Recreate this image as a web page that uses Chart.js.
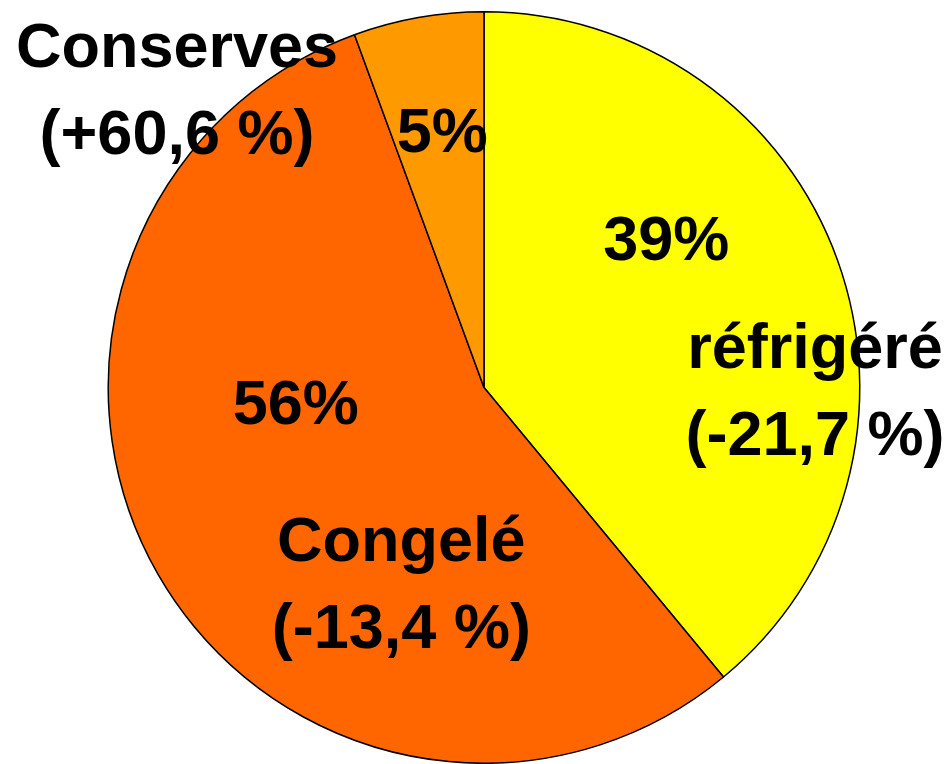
<!DOCTYPE html>
<html>
<head>
<meta charset="utf-8">
<script src="https://cdn.jsdelivr.net/npm/chart.js@4.4.0/dist/chart.umd.min.js"></script>
<style>
  html, body { margin: 0; padding: 0; background: #ffffff; }
  #wrap { width: 952px; height: 764px; }
</style>
</head>
<body>
<div id="wrap"><canvas id="pie" width="952" height="764"></canvas></div>
<script>
// data, clockwise from 12 o'clock
const categories = ['réfrigéré', 'Congelé', 'Conserves'];
const shares = [39.0, 55.4, 5.6];          // slice sizes measured from the angles
const shareLabels = ['39%', '56%', '5%'];  // as printed on the chart
const changes = ['(-21,7 %)', '(-13,4 %)', '(+60,6 %)'];
const sliceColors = ['#ffff00', '#ff6600', '#ff9900'];

// where the labels sit, as fractions of the radius from the centre
// pct = the "xx%" text, name = category + change (two lines)
const labelPlace = [
    { pct: [0.485, -0.340], name: [0.881, -0.053] },
    { pct: [-0.501, 0.098], name: [-0.220, 0.462] },
    { pct: [-0.111, -0.626], name: [-0.817, -0.854] }
];

const sliceLabels = {
    id: 'sliceLabels',
    afterDraw(chart) {
        const ctx = chart.ctx;
        const arc = chart.getDatasetMeta(0).data[0];
        const cx = arc.x, cy = arc.y, r = arc.outerRadius;
        const lineGap = 0.232 * r;
        ctx.save();
        ctx.fillStyle = '#000000';
        ctx.font = "bold 63px 'Liberation Sans', Arial, sans-serif";
        ctx.textAlign = 'center';
        ctx.textBaseline = 'alphabetic';
        shareLabels.forEach((txt, i) => {
            const p = labelPlace[i];
            ctx.fillText(txt, cx + p.pct[0] * r, cy + p.pct[1] * r);
            const nx = cx + p.name[0] * r, ny = cy + p.name[1] * r;
            ctx.fillText(categories[i], nx, ny);
            ctx.fillText(changes[i], nx, ny + lineGap);
        });
        ctx.restore();
    }
};

new Chart(document.getElementById('pie'), {
    type: 'pie',
    data: {
        labels: categories,
        datasets: [{
            data: shares,
            backgroundColor: sliceColors,
            borderColor: '#000000',
            borderWidth: 1.5,
            borderAlign: 'center'
        }]
    },
    options: {
        responsive: false,
        animation: false,
        layout: { padding: { left: 16, right: 0, top: 11, bottom: 0 } },
        plugins: {
            legend: { display: false },
            tooltip: { enabled: false }
        }
    },
    plugins: [sliceLabels]
});
</script>
</body>
</html>
